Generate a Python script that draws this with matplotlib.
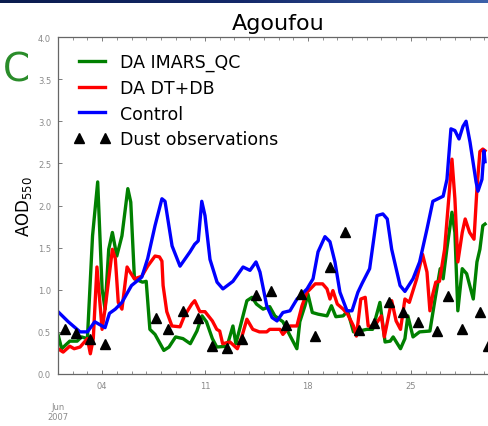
import matplotlib
matplotlib.use('Agg')
import matplotlib.pyplot as plt
import matplotlib.dates as mdates
import matplotlib.transforms as mtransforms
import numpy as np
import pandas as pd

# day of June 2007 (1.0 = June 1 00:00) and AOD values
days_ctrl = [1.0, 1.7, 2.5, 3.0, 3.5, 3.8, 4.2, 4.5, 4.9, 5.35,
             6.0, 6.7, 7.1, 7.6, 8.07, 8.28, 8.76, 9.3, 9.98, 10.3,
             10.54, 10.78, 11.0, 11.34, 11.82, 12.22, 12.9, 13.59, 14.06, 14.47,
             14.74, 15.2, 15.56, 15.9, 16.3, 16.78, 17.26, 17.94, 18.35, 18.69,
             19.16, 19.5, 19.84, 20.18, 20.66, 21.0, 21.4, 21.7, 22.2, 22.7,
             23.1, 23.4, 23.7, 24.27, 24.6, 25.15, 25.6, 26.1, 26.5, 27.2,
             27.46, 27.73, 28.0, 28.28, 28.55, 28.76, 29.03, 29.44, 29.57, 29.84,
             29.98, 30.05]
aod_ctrl = [0.74, 0.62, 0.50, 0.50, 0.62, 0.59, 0.55, 0.72, 0.77, 0.85,
            1.05, 1.15, 1.37, 1.76, 2.08, 2.05, 1.52, 1.28, 1.45, 1.54,
            1.58, 2.05, 1.88, 1.36, 1.09, 1.01, 1.10, 1.27, 1.23, 1.33,
            1.21, 0.81, 0.67, 0.63, 0.73, 0.75, 0.89, 1.01, 1.13, 1.45,
            1.63, 1.57, 1.33, 0.97, 0.75, 0.75, 0.97, 1.08, 1.25, 1.88,
            1.90, 1.84, 1.48, 1.05, 0.98, 1.13, 1.33, 1.72, 2.05, 2.11,
            2.31, 2.91, 2.89, 2.79, 2.94, 3.00, 2.75, 2.28, 2.17, 2.31,
            2.65, 2.52]

days_dtdb = [1.0, 1.35, 1.8, 2.1, 2.5, 3.0, 3.2, 3.4, 3.65, 4.0,
             4.2, 4.7, 4.9, 5.1, 5.35, 5.7, 5.9, 6.2, 6.7, 7.1,
             7.6, 7.9, 8.07, 8.15, 8.4, 8.75, 9.3, 9.6, 10.1, 10.3,
             10.65, 11.0, 11.5, 11.8, 12.0, 12.2, 12.7, 13.2, 13.5, 13.85,
             14.25, 14.7, 15.2, 15.4, 16.1, 16.3, 16.8, 17.25, 17.6, 17.94,
             18.5, 19.0, 19.3, 19.5, 19.7, 20.0, 20.4, 20.7, 21.1, 21.3,
             21.6, 21.9, 22.1, 22.5, 23.0, 23.2, 23.7, 24.0, 24.3, 24.6,
             24.9, 25.4, 25.8, 26.1, 26.3, 26.5, 26.7, 26.95, 27.3, 27.8,
             28.0, 28.2, 28.5, 28.7, 29.0, 29.3, 29.5, 29.7, 29.9, 30.05]
aod_dtdb = [0.30, 0.26, 0.33, 0.30, 0.32, 0.42, 0.24, 0.42, 1.27, 0.53,
            0.77, 1.48, 1.37, 0.85, 0.77, 1.27, 1.21, 1.13, 1.16, 1.28,
            1.40, 1.39, 1.34, 1.05, 0.74, 0.57, 0.56, 0.69, 0.83, 0.87,
            0.74, 0.74, 0.63, 0.53, 0.51, 0.36, 0.38, 0.30, 0.44, 0.65,
            0.53, 0.50, 0.50, 0.53, 0.53, 0.47, 0.57, 0.57, 0.81, 0.97,
            1.07, 1.07, 1.01, 0.89, 0.99, 0.83, 0.77, 0.71, 0.57, 0.45,
            0.89, 0.91, 0.57, 0.56, 0.69, 0.44, 0.87, 0.63, 0.53, 0.89,
            0.85, 1.13, 1.42, 1.21, 0.75, 0.95, 1.09, 1.10, 1.48, 2.55,
            2.08, 1.33, 1.68, 1.84, 1.68, 1.60, 2.20, 2.64, 2.67, 2.65]

days_imars = [1.0, 1.25, 1.8, 2.3, 2.6, 3.0, 3.35, 3.7, 4.0, 4.2,
              4.45, 4.7, 5.0, 5.35, 5.75, 5.95, 6.2, 6.75, 7.0, 7.25,
              7.6, 8.2, 8.55, 9.0, 9.5, 10.0, 10.45, 10.8, 11.1, 11.5,
              11.8, 12.5, 12.9, 13.1, 13.85, 14.2, 14.5, 14.95, 15.4, 15.75,
              16.3, 16.8, 17.25, 17.45, 17.8, 18.0, 18.3, 18.7, 19.3, 19.6,
              19.9, 20.4, 20.7, 21.1, 21.5, 22.0, 22.4, 22.9, 23.25, 23.6,
              23.8, 24.3, 24.6, 24.8, 25.15, 25.6, 26.3, 26.65, 27.0, 27.2,
              27.45, 27.8, 28.0, 28.1, 28.2, 28.5, 28.8, 29.25, 29.5, 29.7,
              29.9, 30.05]
aod_imars = [0.47, 0.30, 0.39, 0.39, 0.44, 0.42, 1.64, 2.28, 1.01, 0.77,
             1.48, 1.68, 1.40, 1.64, 2.20, 2.04, 1.13, 1.09, 1.10, 0.53,
             0.47, 0.28, 0.32, 0.44, 0.42, 0.36, 0.51, 0.69, 0.62, 0.42,
             0.32, 0.33, 0.57, 0.36, 0.87, 0.91, 0.83, 0.77, 0.80, 0.69,
             0.62, 0.45, 0.30, 0.62, 0.81, 0.95, 0.73, 0.71, 0.69, 0.81,
             0.68, 0.69, 0.75, 0.50, 0.51, 0.53, 0.53, 0.85, 0.38, 0.39,
             0.44, 0.30, 0.42, 0.69, 0.44, 0.50, 0.51, 0.89, 1.25, 1.13,
             1.48, 1.92, 1.68, 1.21, 0.75, 1.25, 1.19, 0.89, 1.33, 1.48,
             1.76, 1.78]

days_obs = [1.45, 2.2, 3.2, 4.2, 7.7, 8.5, 9.5, 10.5, 11.5, 12.5,
            13.5, 14.5, 15.5, 16.5, 17.5, 18.5, 19.5, 20.5, 21.5, 22.5,
            23.5, 24.5, 25.5, 26.8, 27.5, 28.5, 29.7, 30.25]
aod_obs = [0.53, 0.49, 0.42, 0.36, 0.67, 0.53, 0.75, 0.66, 0.33, 0.31,
           0.42, 0.94, 0.99, 0.58, 0.95, 0.45, 1.27, 1.68, 0.52, 0.60,
           0.86, 0.74, 0.62, 0.51, 0.93, 0.54, 0.73, 0.33]

start = pd.Timestamp('2007-06-01')


def to_dates(days):
    return start + pd.to_timedelta(np.array(days) - 1.0, unit='D')


plt.rcParams['font.family'] = 'DejaVu Sans'

W, H = 489, 427
fig = plt.figure(figsize=(W / 100, H / 100), dpi=100)

# dark banner strip at the very top
band = fig.add_axes([0, 1 - 4 / H, 1, 4 / H])
band.imshow(np.linspace(0, 1, 256)[None, :], aspect='auto',
            cmap=matplotlib.colors.LinearSegmentedColormap.from_list(
                'bar', ['#0b1c4e', '#14296a', '#3d62aa']))
band.axis('off')

ax = fig.add_axes([58 / W, 1 - 375 / H, 441 / W, 337 / H])

ax.plot(to_dates(days_imars), aod_imars, color='g', lw=2.4, label='DA IMARS_QC')
ax.plot(to_dates(days_dtdb), aod_dtdb, color='r', lw=2.4, label='DA DT+DB')
ax.plot(to_dates(days_ctrl), aod_ctrl, color='b', lw=2.4, label='Control')
ax.plot(to_dates(days_obs), aod_obs, linestyle='none', marker='^', color='k',
        markersize=7, label='Dust observations')

ax.set_xlim(pd.Timestamp('2007-06-01'), pd.Timestamp('2007-07-01'))
ax.set_ylim(0, 4.0)
ax.set_yticks(np.arange(0, 4.01, 0.5))
ax.yaxis.set_major_formatter(matplotlib.ticker.FormatStrFormatter('%.1f'))

ax.xaxis.set_major_locator(mdates.DayLocator(bymonthday=[4, 11, 18, 25]))
ax.xaxis.set_major_formatter(mdates.DateFormatter('%d'))
ax.xaxis.set_minor_locator(mdates.DayLocator())

ax.tick_params(which='both', direction='in', top=True, right=True,
               labelsize=6, labelcolor='#8a8a8a', color='#666666')
ax.tick_params(which='major', length=3, width=0.6, pad=5)
ax.tick_params(which='minor', length=2, width=0.5)
for s in ax.spines.values():
    s.set_color('#666666')
    s.set_linewidth(0.9)

trans = mtransforms.blended_transform_factory(ax.transData, ax.transAxes)
ax.text(mdates.date2num(start), -0.083, 'Jun\n2007', transform=trans,
        ha='center', va='top', fontsize=6, color='#8a8a8a', linespacing=1.1)

ax.set_title('Agoufou', fontsize=16, pad=6)
ax.set_ylabel('AOD$_{550}$', fontsize=12, labelpad=3)

ax.legend(loc='upper left', frameon=False, fontsize=12.5, numpoints=2,
          handlelength=2.1, handletextpad=0.6, labelspacing=0.45,
          borderaxespad=0.5)

fig.text(3 / W, 1 - 71 / H, 'C', fontsize=28, color='#2a8c2a',
         ha='left', va='center')

fig.savefig('out.png', dpi=100)
